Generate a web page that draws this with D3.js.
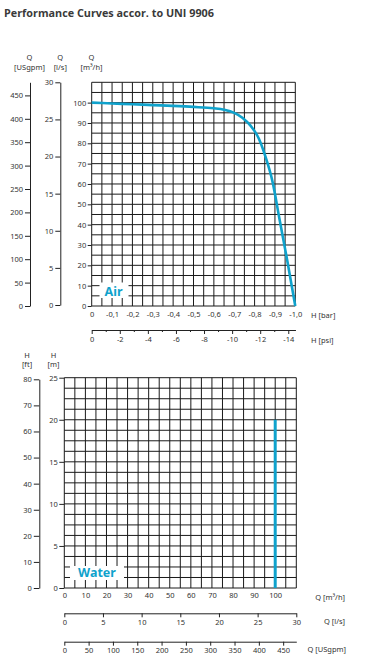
<!DOCTYPE html>
<html>
<head>
<meta charset="utf-8">
<script src="https://cdn.jsdelivr.net/npm/d3@7"></script>
<style>
  body { margin: 0; background: #fff; }
  text { font-family: "Noto Sans", "Open Sans", sans-serif; fill: #333; }
</style>
</head>
<body>
<div id="chart"></div>
<script>

// air curve: H [bar] vs Q [m3/h]
var airH = [0, -0.1, -0.2, -0.3, -0.4, -0.5, -0.6, -0.65, -0.7, -0.74, -0.78, -0.82, -0.85, -0.89, -0.92, -0.96, -1.0];
var airQ = [100, 99.6, 99.2, 98.8, 98.4, 97.9, 97.2, 96.5, 95.0, 92.6, 88.7, 82.5, 74.5, 60.3, 44, 22.6, 0];

// water curve: Q [m3/h] vs H [m]
var waterQ = [100, 100];
var waterH = [0, 20];

var barTicks = [0, -0.1, -0.2, -0.3, -0.4, -0.5, -0.6, -0.7, -0.8, -0.9, -1.0];
var psiTicks = [0, -2, -4, -6, -8, -10, -12, -14];
var qm3Ticks = [0, 10, 20, 30, 40, 50, 60, 70, 80, 90, 100];
var qlsTicks = [0, 5, 10, 15, 20, 25, 30];
var gpmTicks = [0, 50, 100, 150, 200, 250, 300, 350, 400, 450];
var mTicks = [0, 5, 10, 15, 20, 25];
var ftTicks = [0, 10, 20, 30, 40, 50, 60, 70, 80];

var blue = "#0fa2cc";

var svg = d3.select("#chart")
  .append("svg")
  .attr("width", 370)
  .attr("height", 663);

svg.append("text")
  .attr("x", 4)
  .attr("y", 16.8)
  .style("font-family", "'Open Sans', sans-serif")
  .style("font-size", "11px")
  .style("font-weight", "bold")
  .style("fill", "#3a3a3a")
  .attr("textLength", 210)
  .attr("lengthAdjust", "spacingAndGlyphs")
  .text("Performance Curves accor. to UNI 9906");

// hyphen minus and decimal comma, as in the original sheet
function commaFmt(d) {
  return d === 0 ? "0" : d.toFixed(1).replace(".", ",");
}
function plainFmt(d) {
  return String(d);
}

function styleAxis(g, size) {
  g.select(".domain").attr("stroke", "#222").attr("stroke-width", 1);
  g.selectAll(".tick line").attr("stroke", "#222");
  g.selectAll(".tick text").style("font-size", (size || 7.5) + "px").style("fill", "#333");
}

function drawGrid(parent, x, y, xStep, yStep) {
  var xd = x.domain(), yd = y.domain();
  var dir = xd[1] > xd[0] ? 1 : -1;
  var xs = d3.range(xd[0], xd[1] + dir * 1e-9, dir * xStep);
  var ys = d3.range(yd[0], yd[1] + 1e-9, yStep);
  var g = parent.append("g");
  g.selectAll(".gx").data(xs).enter().append("line")
    .attr("x1", function (d) { return x(d); })
    .attr("x2", function (d) { return x(d); })
    .attr("y1", y.range()[0])
    .attr("y2", y.range()[1])
    .attr("stroke", "#1a1a1a")
    .attr("stroke-width", 1);
  g.selectAll(".gy").data(ys).enter().append("line")
    .attr("x1", x.range()[0])
    .attr("x2", x.range()[1])
    .attr("y1", function (d) { return y(d); })
    .attr("y2", function (d) { return y(d); })
    .attr("stroke", "#1a1a1a")
    .attr("stroke-width", 1);
}

function label(x, y, txt, anchor, size, weight, color) {
  return svg.append("text")
    .attr("x", x)
    .attr("y", y)
    .style("text-anchor", anchor || "middle")
    .style("font-size", (size || 7.5) + "px")
    .style("font-weight", weight || "normal")
    .style("fill", color || "#333")
    .text(txt);
}

// ---------- Air chart ----------
var xBar = d3.scaleLinear().domain([0, -1.0]).range([91.7, 295.3]);
var xPsi = d3.scaleLinear().domain([0, -14.5]).range([91.7, 295.3]);
var yQ = d3.scaleLinear().domain([0, 110]).range([306, 82.3]);
var yLs = d3.scaleLinear().domain([0, 30]).range([305, 82.3]);
var yGpm = d3.scaleLinear().domain([0, 478]).range([306, 82.3]);

drawGrid(svg, xBar, yQ, 0.05, 5);

var ax;
ax = svg.append("g").attr("transform", "translate(91.7,0)")
  .call(d3.axisLeft(yQ).tickValues(qm3Ticks).tickSize(4).tickPadding(1.5).tickFormat(plainFmt));
ax.select(".domain").remove();
styleAxis(ax);

ax = svg.append("g").attr("transform", "translate(60.3,0)")
  .call(d3.axisLeft(yLs).tickValues(qlsTicks).tickSize(5).tickSizeOuter(0).tickPadding(2).tickFormat(plainFmt));
styleAxis(ax);

ax = svg.append("g").attr("transform", "translate(30,0)")
  .call(d3.axisLeft(yGpm).tickValues(gpmTicks).tickSize(5).tickSizeOuter(0).tickPadding(2).tickFormat(plainFmt));
styleAxis(ax);

ax = svg.append("g").attr("transform", "translate(0,306)")
  .call(d3.axisBottom(xBar).tickValues(barTicks).tickSize(0).tickPadding(6).tickFormat(commaFmt));
ax.select(".domain").remove();
styleAxis(ax);

ax = svg.append("g").attr("transform", "translate(0,330)")
  .call(d3.axisBottom(xPsi).tickValues(d3.range(-1, -14.5, -2)).tickSize(2).tickSizeOuter(0).tickFormat(""));
styleAxis(ax);
ax = svg.append("g").attr("transform", "translate(0,330)")
  .call(d3.axisBottom(xPsi).tickValues(psiTicks).tickSize(4).tickSizeOuter(0).tickPadding(3).tickFormat(plainFmt));
styleAxis(ax);

label(311, 318, "H [bar]", "start");
label(311, 342.5, "H [psi]", "start");

label(29.5, 60, "Q");
label(29.5, 69.5, "[USgpm]");
label(60.3, 60, "Q");
label(60.3, 69.5, "[l/s]");
label(91.5, 60, "Q");
label(91.5, 69.5, "[m³/h]");

var airLine = d3.line()
  .x(function (d, i) { return xBar(airH[i]); })
  .y(function (d, i) { return yQ(airQ[i]); })
  .curve(d3.curveMonotoneX);

svg.append("path")
  .datum(airQ)
  .attr("d", airLine)
  .attr("fill", "none")
  .attr("stroke", blue)
  .attr("stroke-width", 2.6);

svg.append("rect")
  .attr("x", 99.5).attr("y", 282.5).attr("width", 29).attr("height", 15.5)
  .attr("fill", "#fff");
label(113.5, 295.5, "Air", "middle", 12.5, "bold", blue);

// ---------- Water chart ----------
var xQ = d3.scaleLinear().domain([0, 110]).range([64.3, 296.3]);
var xLs = d3.scaleLinear().domain([0, 30]).range([64.3, 296.3]);
var xGpm = d3.scaleLinear().domain([0, 477]).range([64.3, 296.3]);
var yM = d3.scaleLinear().domain([0, 25]).range([588, 377.7]);
var yFt = d3.scaleLinear().domain([0, 80]).range([588, 379.3]);

drawGrid(svg, xQ, yM, 5, 1.25);

ax = svg.append("g").attr("transform", "translate(64.3,0)")
  .call(d3.axisLeft(yM).tickValues(mTicks).tickSize(5).tickPadding(1.5).tickFormat(plainFmt));
ax.select(".domain").remove();
styleAxis(ax);

ax = svg.append("g").attr("transform", "translate(39.3,0)")
  .call(d3.axisLeft(yFt).tickValues(ftTicks).tickSize(5.5).tickSizeOuter(0).tickPadding(2).tickFormat(plainFmt));
styleAxis(ax);

ax = svg.append("g").attr("transform", "translate(0,588)")
  .call(d3.axisBottom(xQ).tickValues(qm3Ticks).tickSize(0).tickPadding(5).tickFormat(plainFmt));
ax.select(".domain").remove();
styleAxis(ax);

ax = svg.append("g").attr("transform", "translate(0,613.3)")
  .call(d3.axisBottom(xLs).tickValues(qlsTicks).tickSize(4).tickSizeOuter(0).tickPadding(2.5).tickFormat(plainFmt));
styleAxis(ax);

ax = svg.append("g").attr("transform", "translate(0,641.7)")
  .call(d3.axisBottom(xGpm).tickValues(gpmTicks).tickSize(4).tickSizeOuter(0).tickPadding(2).tickFormat(plainFmt));
styleAxis(ax);

label(345, 599.5, "Q [m³/h]", "end");
label(345, 624, "Q [l/s]", "end");
label(346, 652, "Q [USgpm]", "end");

label(27, 357.5, "H");
label(27, 367, "[ft]");
label(53.5, 357.5, "H");
label(53.5, 367, "[m]");

var waterLine = d3.line()
  .x(function (d, i) { return xQ(waterQ[i]); })
  .y(function (d, i) { return yM(waterH[i]); });

svg.append("path")
  .datum(waterQ)
  .attr("d", waterLine)
  .attr("fill", "none")
  .attr("stroke", blue)
  .attr("stroke-width", 3);

svg.append("rect")
  .attr("x", 70).attr("y", 566).attr("width", 54).attr("height", 14)
  .attr("fill", "#fff");
label(97, 577, "Water", "middle", 12.5, "bold", blue);

</script>
</body>
</html>
